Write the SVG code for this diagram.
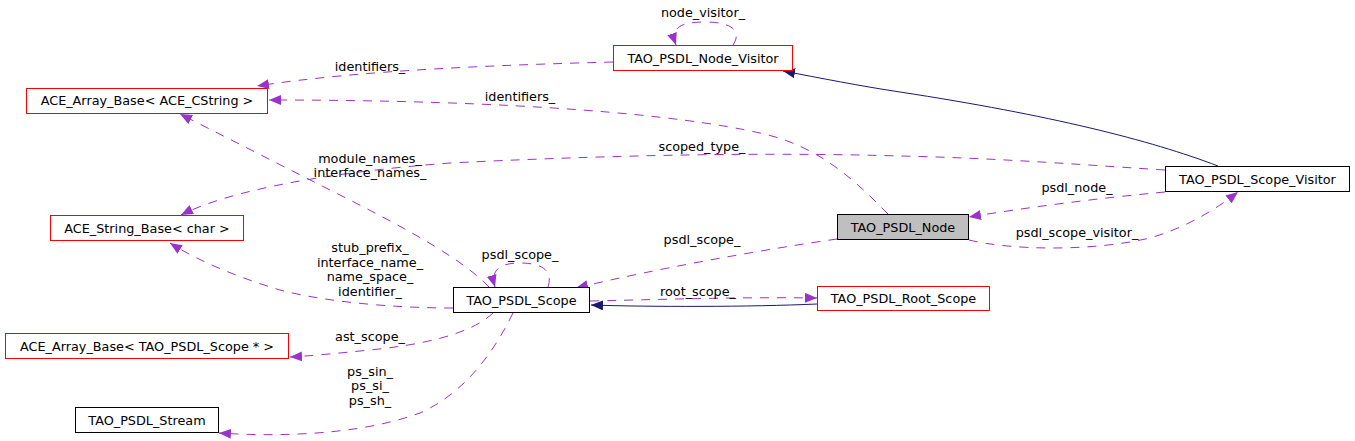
<svg xmlns="http://www.w3.org/2000/svg" width="1355" height="441" viewBox="0 0 1355 441">
<style>
  text { font-family: "DejaVu Sans", "Liberation Sans", sans-serif; font-size: 12.8px; fill: #000; }
  .lbl { text-anchor: middle; }
  .node rect { stroke-width: 1; }
  .red rect { fill: #ffffff; stroke: #ff0000; }
  .blk rect { fill: #ffffff; stroke: #000000; }
  .main rect { fill: #bfbfbf; stroke: #000000; }
  .use { fill: none; stroke: #9a32cd; stroke-width: 1; stroke-dasharray: 9,8; marker-end: url(#ua); }
  .inh { fill: none; stroke: #191970; stroke-width: 1; marker-end: url(#ia); }
</style>
<defs>
  <marker id="ua" viewBox="0 0 12 10" refX="12" refY="5" markerWidth="12" markerHeight="10" markerUnits="userSpaceOnUse" orient="auto">
    <path d="M0,0 L12,5 L0,10 z" fill="#9a32cd"/>
  </marker>
  <marker id="ia" viewBox="0 0 12 10" refX="12" refY="5" markerWidth="12" markerHeight="10" markerUnits="userSpaceOnUse" orient="auto">
    <path d="M0,0 L12,5 L0,10 z" fill="#191970"/>
  </marker>
</defs>
<rect width="1355" height="441" fill="#ffffff"/>

<g id="edges">
  <path class="use" d="M613,62 C500,65 360,70 257,86"/>
  <path class="use" d="M888,214 C850,175 815,145 760,133 C680,115 520,100 269,100"/>
  <path class="use" d="M489,287 C465,262 420,235 330,190 L180,114"/>
  <path class="use" d="M1165,170 C1100,166 1000,158 900,156 C800,153 650,153 450,163 C330,172 230,190 181,215"/>
  <path class="use" d="M453,308 C400,308 330,303 280,290 C240,278 200,262 170,243"/>
  <path class="use" d="M493,313 C470,335 420,345 370,350 C340,353 310,356 290,357"/>
  <path class="use" d="M513,313 C490,360 460,395 420,413 C360,435 280,437 219,433"/>
  <path class="use" d="M733,45 C740,35 738,22 705,22 C680,22 670,28 676,45"/>
  <path class="inh" d="M1218,166 C1150,140 1050,115 900,92 C860,86 820,78 783,71"/>
  <path class="use" d="M1165,192 C1100,198 1030,207 969,217"/>
  <path class="use" d="M969,240 C1010,250 1090,252 1150,238 C1185,228 1215,210 1238,192"/>
  <path class="use" d="M837,239 C760,250 650,270 576,288"/>
  <path class="use" d="M548,287 C552,275 548,263 520,263 C500,263 490,270 495,287"/>
  <path class="use" d="M590,301 C680,299 740,297 817,298"/>
  <path class="inh" d="M817,304 C750,307 650,307 591,305"/>

  <text class="lbl" x="703" y="17">node_visitor_</text>
  <text class="lbl" x="370" y="71">identifiers_</text>
  <text class="lbl" x="520" y="101">identifiers_</text>
  <text class="lbl" x="370" y="163">module_names_</text>
  <text class="lbl" x="370" y="177">interface_names_</text>
  <text class="lbl" x="702" y="151">scoped_type_</text>
  <text class="lbl" x="1077" y="192">psdl_node_</text>
  <text class="lbl" x="1077" y="237">psdl_scope_visitor_</text>
  <text class="lbl" x="702" y="244">psdl_scope_</text>
  <text class="lbl" x="520" y="259">psdl_scope_</text>
  <text class="lbl" x="698" y="296">root_scope_</text>
  <text class="lbl" x="370" y="252">stub_prefix_</text>
  <text class="lbl" x="370" y="266.5">interface_name_</text>
  <text class="lbl" x="370" y="281">name_space_</text>
  <text class="lbl" x="370" y="295.5">identifier_</text>
  <text class="lbl" x="370" y="341">ast_scope_</text>
  <text class="lbl" x="370" y="376">ps_sin_</text>
  <text class="lbl" x="370" y="390">ps_si_</text>
  <text class="lbl" x="370" y="404.5">ps_sh_</text>
</g>

<g id="node-ace-array-cstring" class="node red">
  <rect x="26.5" y="88.5" width="241" height="25"/>
  <text class="lbl" x="147" y="105">ACE_Array_Base&lt; ACE_CString &gt;</text>
</g>
<g id="node-ace-string-base" class="node red">
  <rect x="50.5" y="215.5" width="193" height="25"/>
  <text class="lbl" x="147" y="232.5">ACE_String_Base&lt; char &gt;</text>
</g>
<g id="node-ace-array-scope" class="node red">
  <rect x="5.5" y="333.5" width="283" height="25"/>
  <text class="lbl" x="147" y="350.5">ACE_Array_Base&lt; TAO_PSDL_Scope * &gt;</text>
</g>
<g id="node-stream" class="node blk">
  <rect x="75.5" y="407.5" width="143" height="25"/>
  <text class="lbl" x="147" y="424.5">TAO_PSDL_Stream</text>
</g>
<g id="node-node-visitor" class="node red">
  <rect x="613.5" y="45.5" width="179" height="25"/>
  <text class="lbl" x="703" y="62.5">TAO_PSDL_Node_Visitor</text>
</g>
<g id="node-node" class="node main">
  <rect x="837.5" y="214.5" width="131" height="25"/>
  <text class="lbl" x="903" y="231.5">TAO_PSDL_Node</text>
</g>
<g id="node-scope-visitor" class="node blk">
  <rect x="1165.5" y="166.5" width="184" height="25"/>
  <text class="lbl" x="1257.5" y="183.5">TAO_PSDL_Scope_Visitor</text>
</g>
<g id="node-scope" class="node blk">
  <rect x="453.5" y="287.5" width="136" height="25"/>
  <text class="lbl" x="521.5" y="304.5">TAO_PSDL_Scope</text>
</g>
<g id="node-root-scope" class="node red">
  <rect x="817.5" y="286.5" width="172" height="24"/>
  <text class="lbl" x="903.5" y="303">TAO_PSDL_Root_Scope</text>
</g>
</svg>
